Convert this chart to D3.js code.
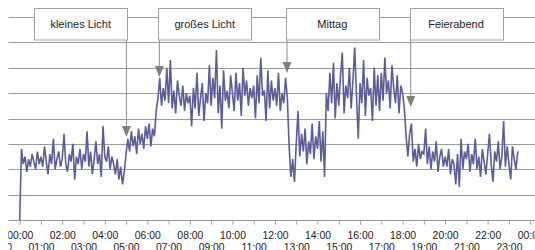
<!DOCTYPE html>
<html>
<head>
<meta charset="utf-8">
<script src="https://cdn.jsdelivr.net/npm/d3@7"></script>
<style>
  html, body { margin: 0; padding: 0; background: #fff; }
  svg { display: block; font-family: "Liberation Sans", Arial, sans-serif; }
</style>
</head>
<body>
<div id="chart"></div>
<script>
const nacht = [ // 00:00 - 04:55
  0, 2.8, 2.2, 2.5, 1.9, 2.4, 2.1, 2.6, 2.3, 2.0, 2.7, 2.2,
  2.5, 2.1, 2.9, 2.3, 1.8, 2.6, 2.2, 3.2, 2.0, 2.4, 2.7, 2.1,
  2.4, 3.4, 2.2, 1.9, 2.6, 2.3, 3.0, 1.6, 2.5, 2.2, 2.8, 2.0,
  2.6, 2.3, 3.5, 2.1, 2.7, 1.8, 2.4, 3.1, 2.2, 2.6, 1.7, 3.7,
  2.5, 2.3, 2.9, 2.0, 2.5, 2.2, 1.8, 2.4, 1.6, 2.1, 1.4, 1.9
]
const morgen = [ // 05:00 - 06:55
  2.6, 3.2, 2.7, 3.5, 2.9, 3.3, 2.6, 3.6, 3.0, 3.4, 2.8, 3.7,
  3.2, 3.8, 2.9, 3.6, 3.3, 4.3, 4.8, 5.6, 4.5, 5.2, 4.7, 6.0
]
const vormittag = [ // 07:00 - 12:55
  4.6, 6.3, 4.4, 5.1, 4.2, 5.5, 4.9, 4.5, 5.3, 4.3, 5.0, 4.6,
  4.9, 3.7, 5.2, 4.4, 5.8, 4.1, 4.8, 5.4, 3.9, 5.0, 4.6, 6.1,
  4.5, 5.6, 4.8, 6.7, 4.2, 5.3, 3.6, 5.9, 4.7, 5.1, 4.4, 5.7,
  5.0, 4.3, 5.8, 4.7, 5.4, 4.1, 6.0, 4.9, 5.5, 4.5, 5.2, 4.8,
  5.3, 4.0, 5.7, 4.6, 6.4, 4.9, 5.1, 3.9, 5.9, 4.4, 5.5, 4.7,
  5.2, 4.5, 5.8, 4.3, 5.0, 4.6, 5.6, 4.8, 2.9, 1.7, 2.4, 1.5
]
const nachmittag = [ // 13:00 - 17:55
  3.0, 4.3, 2.5, 3.4, 2.7, 3.6, 2.2, 3.1, 2.6, 3.8, 2.4, 3.3,
  2.8, 3.9, 2.3, 3.5, 1.7, 5.0, 4.3, 5.8, 4.6, 6.2, 4.0, 5.4,
  4.5, 5.7, 6.6, 4.2, 5.3, 4.8, 6.0, 4.4, 5.5, 6.8, 4.9, 3.2,
  5.4, 4.6, 6.3, 4.1, 5.6, 4.9, 5.2, 3.9, 6.0, 4.5, 5.7, 4.3,
  5.8, 4.7, 6.4, 5.0, 5.5, 4.4, 6.1, 5.2, 4.6, 5.7, 4.2, 5.3
]
const abend = [ // 18:00 - 23:25
  5.0, 4.4, 3.3, 2.5, 3.4, 3.8, 2.3, 2.8, 2.1, 3.0, 2.4, 2.7,
  2.6, 3.6, 2.2, 2.9, 2.0, 2.7, 2.3, 3.1, 1.9, 2.5, 2.8, 2.1,
  2.5, 2.1, 2.8, 1.8, 2.4, 2.2, 1.4, 2.6, 1.3, 3.2, 2.0, 2.7,
  2.4, 3.0, 1.9, 2.6, 2.2, 3.2, 2.0, 2.5, 1.7, 2.8, 2.3, 1.8,
  2.6, 3.4, 2.2, 1.5, 2.7, 2.3, 3.1, 2.0, 2.5, 3.9, 2.1, 2.9,
  2.2, 1.6, 2.9, 2.4, 2.0, 2.7
]
const stepMinutes = 5

const tickHours = d3.range(-1, 25)
const hourLabels = [
  '23:00', '00:00', '01:00', '02:00', '03:00', '04:00', '05:00', '06:00', '07:00',
  '08:00', '09:00', '10:00', '11:00', '12:00', '13:00', '14:00', '15:00', '16:00',
  '17:00', '18:00', '19:00', '20:00', '21:00', '22:00', '23:00', '00:00'
]

const annLabels = ['kleines Licht', 'großes Licht', 'Mittag', 'Feierabend']
const annTimes = ['05:01', '06:34', '12:34', '18:23']
const annValues = [3.27, 5.64, 5.79, 4.45]
const annSide = ['left', 'right', 'right', 'right']

const values = [].concat(nacht, morgen, vormittag, nachmittag, abend)
const width = 535, height = 250
const plotLeft = 8.3

const x = d3.scaleLinear().domain([0, 24]).range([19.7, 530.2])
const y = d3.scaleLinear().domain([0, 8]).range([220, 17])
const crisp = v => Math.round(v) + 0.5
const toHours = s => { const [h, m] = s.split(':').map(Number); return h + m / 60 }

const svg = d3.select('#chart').append('svg')
  .attr('width', width).attr('height', height)

svg.append('defs').append('clipPath').attr('id', 'clip')
  .append('rect').attr('x', plotLeft).attr('y', 0).attr('width', width).attr('height', height)

const frame = svg.append('g').attr('clip-path', 'url(#clip)')

// horizontal grid
frame.append('g').selectAll('line')
  .data(y.ticks(8))
  .join('line')
  .attr('x1', plotLeft).attr('x2', width)
  .attr('y1', d => crisp(y(d))).attr('y2', d => crisp(y(d)))
  .attr('stroke', '#9a9a9a').attr('stroke-width', 1)

// x axis, labels staggered in two rows
const xAxis = d3.axisBottom(x)
  .tickValues(tickHours)
  .tickSize(4)
  .tickSizeOuter(0)
  .tickFormat((d, i) => hourLabels[i])

const axisG = frame.append('g')
  .attr('transform', `translate(0,${crisp(y(0))})`)
  .call(xAxis)
axisG.select('.domain').remove()
axisG.selectAll('.tick line').attr('stroke', '#9a9a9a')
axisG.selectAll('.tick text')
  .attr('dy', null)
  .attr('y', d => Math.abs(d) % 2 ? 30.5 : 18.5)
  .attr('fill', '#1a1a1a')
  .style('font-size', '10.4px')
  .style('font-family', '"Liberation Sans", Arial, sans-serif')

// data line
const line = d3.line()
  .x((d, i) => x(i * stepMinutes / 60))
  .y(d => y(d))

frame.append('path')
  .datum(values)
  .attr('d', line)
  .attr('fill', 'none')
  .attr('stroke', '#5c5c99')
  .attr('stroke-width', 1.6)
  .attr('stroke-linejoin', 'miter')

// annotations
const boxW = 93, boxTop = 8.5, boxH = 31.5, triW = 9, triH = 11
const ann = annLabels.map((label, i) => {
  const ax = x(toHours(annTimes[i]))
  const tip = y(annValues[i])
  const left = annSide[i] === 'left' ? ax + 0.8 - boxW : ax - 1.2
  return { label, ax, tip, left }
})

const annG = frame.append('g')
annG.selectAll('line')
  .data(ann)
  .join('line')
  .attr('x1', d => d.ax).attr('x2', d => d.ax)
  .attr('y1', boxTop + boxH).attr('y2', d => d.tip - triH)
  .attr('stroke', '#8c8c8c').attr('stroke-width', 1)

annG.selectAll('path')
  .data(ann)
  .join('path')
  .attr('d', d => `M${d.ax - triW / 2},${d.tip - triH}L${d.ax + triW / 2},${d.tip - triH}L${d.ax},${d.tip}Z`)
  .attr('fill', '#808080')

const boxes = annG.selectAll('g.box')
  .data(ann)
  .join('g').attr('class', 'box')

boxes.append('rect')
  .attr('x', d => crisp(d.left)).attr('y', boxTop)
  .attr('width', boxW).attr('height', boxH)
  .attr('fill', '#fff').attr('stroke', '#a0a0a0').attr('stroke-width', 1)

boxes.append('text')
  .attr('x', d => d.left + boxW / 2)
  .attr('y', boxTop + boxH / 2)
  .attr('dy', '0.35em')
  .attr('text-anchor', 'middle')
  .attr('fill', '#1a1a1a')
  .style('font-size', '11px')
  .text(d => d.label)
</script>
</body>
</html>
